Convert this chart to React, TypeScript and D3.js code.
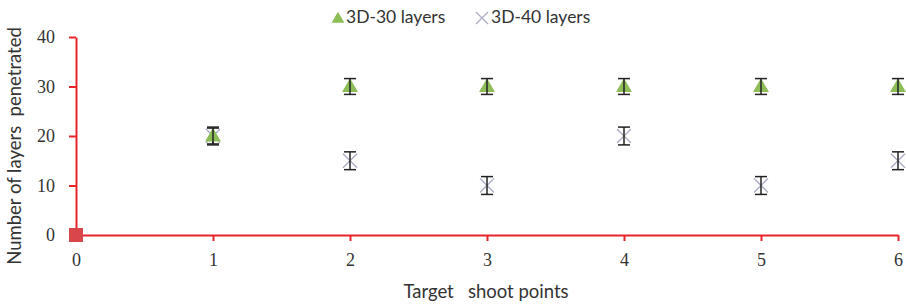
import React, { useEffect, useRef } from 'react';
import * as d3 from 'd3';

const shootPoints = [1, 2, 3, 4, 5, 6];
const layers30 = [20, 30, 30, 30, 30, 30];
const layers40 = [20, 15, 10, 20, 10, 15];
const err30 = [1.6, 1.6, 1.6, 1.6, 1.6, 1.6];
const err40 = [1.8, 1.8, 1.8, 1.8, 1.8, 1.8];
const xTicks = [0, 1, 2, 3, 4, 5, 6];
const yTicks = [0, 10, 20, 30, 40];

const App = () => {
  const svgRef = useRef<SVGSVGElement>(null);

  useEffect(() => {
    const svg = d3.select(svgRef.current);
    svg.selectAll('*').remove();

    const x = d3.scaleLinear().domain([0, 6]).range([76, 898]);
    const y = d3.scaleLinear().domain([0, 40]).range([235, 37]);
    const axisColor = '#e8242b';
    const sans = 'Lato';

    // y axis
    const yAxis = svg.append('g').attr('transform', `translate(${x(0)},0)`)
      .call(d3.axisLeft(y).tickValues(yTicks).tickSize(7).tickSizeOuter(0).tickPadding(14));
    yAxis.select('.domain').attr('stroke', axisColor).attr('stroke-width', 2);
    yAxis.selectAll('line').attr('stroke', axisColor).attr('stroke-width', 2);
    yAxis.selectAll('text').style('font-family', 'Liberation Serif').style('font-size', '18px').attr('fill', '#333');

    // x axis
    const xAxis = svg.append('g').attr('transform', `translate(0,${y(0)})`)
      .call(d3.axisBottom(x).tickValues(xTicks).tickFormat(d3.format('d')).tickSize(6).tickSizeOuter(0).tickPadding(12));
    xAxis.select('.domain').attr('stroke', axisColor).attr('stroke-width', 2);
    xAxis.selectAll('line').attr('stroke', axisColor).attr('stroke-width', 2);
    xAxis.selectAll('text').style('font-family', 'Liberation Serif').style('font-size', '18px').attr('fill', '#333');

    // origin marker
    svg.append('rect').attr('x', x(0) - 7).attr('y', y(0) - 7).attr('width', 14).attr('height', 14).attr('fill', '#d9474a');

    // error bars
    const drawErr = (vals: number[], errs: number[]) => {
      const g = svg.append('g').attr('stroke', '#222').attr('stroke-width', 1.5);
      vals.forEach((v, i) => {
        const cx = x(shootPoints[i]);
        const y1 = y(v + errs[i]);
        const y2 = y(v - errs[i]);
        g.append('line').attr('x1', cx).attr('x2', cx).attr('y1', y1).attr('y2', y2);
        g.append('line').attr('x1', cx - 6).attr('x2', cx + 6).attr('y1', y1).attr('y2', y1);
        g.append('line').attr('x1', cx - 6).attr('x2', cx + 6).attr('y1', y2).attr('y2', y2);
      });
    };

    // 3D-40 crosses
    const cross = (g: d3.Selection<any, any, any, any>, cx: number, cy: number, s: number) => {
      g.append('path')
        .attr('d', `M${cx - s},${cy - s}L${cx + s},${cy + s}M${cx - s},${cy + s}L${cx + s},${cy - s}`)
        .attr('stroke', '#a9abc4').attr('stroke-width', 1.3).attr('fill', 'none');
    };
    const gx = svg.append('g');
    layers40.forEach((v, i) => cross(gx, x(shootPoints[i]), y(v), 7));
    drawErr(layers40, err40);

    // 3D-30 triangles
    const tri = d3.symbol().type(d3.symbolTriangle).size(110);
    svg.append('g').selectAll('path').data(layers30).enter().append('path')
      .attr('d', tri)
      .attr('transform', (d, i) => `translate(${x(shootPoints[i])},${y(d) + 1})`)
      .attr('fill', '#8dbd57');
    drawErr(layers30, err30);

    // axis titles
    svg.append('text').attr('x', 486).attr('y', 298).attr('text-anchor', 'middle')
      .style('font-family', sans).style('font-size', '18.5px').attr('fill', '#333')
      .attr('xml:space', 'preserve').text('Target   shoot points');
    svg.append('text').attr('transform', 'translate(21,146) rotate(-90)').attr('text-anchor', 'middle')
      .style('font-family', sans).style('font-size', '18.5px').attr('fill', '#333')
      .attr('xml:space', 'preserve').text('Number of layers  penetrated');

    // legend
    const lg = svg.append('g');
    lg.append('path').attr('d', tri).attr('transform', 'translate(338,19) scale(0.8)').attr('fill', '#8dbd57');
    lg.append('text').attr('x', 346).attr('y', 23).style('font-family', sans).style('font-size', '17.5px')
      .attr('fill', '#333').text('3D-30 layers');
    cross(lg, 482, 18, 6);
    lg.append('text').attr('x', 491).attr('y', 23).style('font-family', sans).style('font-size', '17.5px')
      .attr('fill', '#333').text('3D-40 layers');
  }, []);

  return <svg ref={svgRef} width={906} height={306} style={{ position: 'absolute', left: 0, top: 0 }}></svg>;
};

export default App;
